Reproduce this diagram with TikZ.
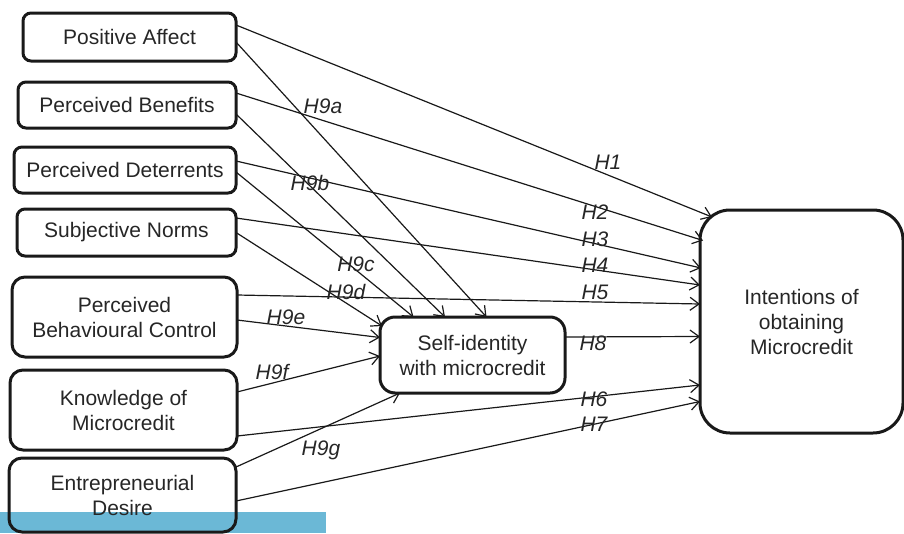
\documentclass[tikz,border=0pt]{standalone}
\usepackage{fontspec}
\setmainfont{Liberation Sans}
\usetikzlibrary{arrows.meta}
\definecolor{barblue}{RGB}{107,184,214}

\begin{document}
\begin{tikzpicture}[x=1pt, y=-1pt,
		box/.style={draw=black!90, line width=3pt, rounded corners=8pt, align=center, outer sep=0pt, inner sep=0pt, text=black!85, font=\fontsize{21}{25}\selectfont},
		hyp/.style={inner sep=0pt, text=black!85, font=\fontsize{21}{25}\selectfont\itshape},
		link/.style={line width=1.2pt, draw=black!90, -{Straight Barb[length=9pt,width=13pt]}}]
	%%%%% START %%%%%
	\useasboundingbox (0, 0) rectangle (904, 533);
	
	\fill[barblue] (0, 512) rectangle (326, 533);
	
	\node[box, minimum width=213pt, minimum height=48pt] (pa) at (129.5, 37) {Positive Affect};
	\node[box, minimum width=218pt, minimum height=46pt] (pb) at (127, 105) {Perceived Benefits};
	\node[box, minimum width=222pt, minimum height=46pt] (pd) at (125, 170) {Perceived Deterrents};
	\node[box, minimum width=219pt, minimum height=47pt] (sn) at (126.5, 232.5) {Subjective Norms};
	\node[box, minimum width=225pt, minimum height=80pt, rounded corners=13pt] (pbc) at (124.5, 317) {Perceived\\Behavioural Control};
	\node[box, minimum width=227pt, minimum height=80pt, rounded corners=13pt] (km) at (123.5, 410) {Knowledge of\\Microcredit};
	\node[box, minimum width=227pt, minimum height=74pt, rounded corners=13pt] (ed) at (122.5, 495) {Entrepreneurial\\Desire};
	
	\node[box, minimum width=185pt, minimum height=76pt, rounded corners=15pt] (si) at (472.5, 355) {Self-identity\\with microcredit};
	\node[box, minimum width=203pt, minimum height=223pt, rounded corners=30pt] (im) at (801.5, 321.5) {Intentions of\\obtaining\\Microcredit};
	
	% direct paths
	\draw[link] ([shift={(0,-12)}]pa.east) -- ([shift={(12,-104.5)}]im.west);
	\draw[link] ([shift={(0,-12)}]pb.east) -- ([shift={(3,-81)}]im.west);
	\draw[link] ([shift={(0,-9)}]pd.east) -- ([shift={(1,-53.5)}]im.west);
	\draw[link] ([shift={(0,-14.5)}]sn.east) -- ([shift={(0,-36.5)}]im.west);
	\draw[link] ([shift={(0,-22)}]pbc.east) -- ([shift={(0,-17.5)}]im.west);
	\draw[link] ([shift={(0,26)}]km.east) -- ([shift={(0,63.5)}]im.west);
	\draw[link] ([shift={(0,6)}]ed.east) -- ([shift={(0,80)}]im.west);
	\draw[link] ([shift={(0,-18)}]si.east) -- ([shift={(0,15)}]im.west);
	
	% paths to self-identity
	\draw[link] ([shift={(0,5)}]pa.east) -- ([shift={(14,0)}]si.north);
	\draw[link] ([shift={(0,9)}]pb.east) -- ([shift={(-27.5,0)}]si.north);
	\draw[link] ([shift={(0,2)}]pd.east) -- ([shift={(-59,0)}]si.north);
	\draw[link] (sn.east) -- ([shift={(2,-29)}]si.west);
	\draw[link] ([shift={(0,3)}]pbc.east) -- ([shift={(0,-17.5)}]si.west);
	\draw[link] ([shift={(0,-18)}]km.east) -- ([shift={(0,1)}]si.west);
	\draw[link] ([shift={(0,-28)}]ed.east) -- ([shift={(-72.5,0)}]si.south);
	
	% hypothesis labels
	\node[hyp] (h1) at (608, 162) {H1};
	\node[hyp] (h2) at (595, 212) {H2};
	\node[hyp] (h3) at (595, 239) {H3};
	\node[hyp] (h4) at (595, 265) {H4};
	\node[hyp] (h5) at (595, 292) {H5};
	\node[hyp] (h8) at (593, 343) {H8};
	\node[hyp] (h6) at (594, 399) {H6};
	\node[hyp] (h7) at (594, 424) {H7};
	
	\node[hyp] (h9a) at (323, 106) {H9a};
	\node[hyp] (h9b) at (310, 183) {H9b};
	\node[hyp] (h9c) at (356, 264) {H9c};
	\node[hyp] (h9d) at (346, 292) {H9d};
	\node[hyp] (h9e) at (286, 317) {H9e};
	\node[hyp] (h9f) at (272, 372) {H9f};
	\node[hyp] (h9g) at (321, 450) {H9g};
	
	%%%%% END %%%%%
\end{tikzpicture}
\end{document}
